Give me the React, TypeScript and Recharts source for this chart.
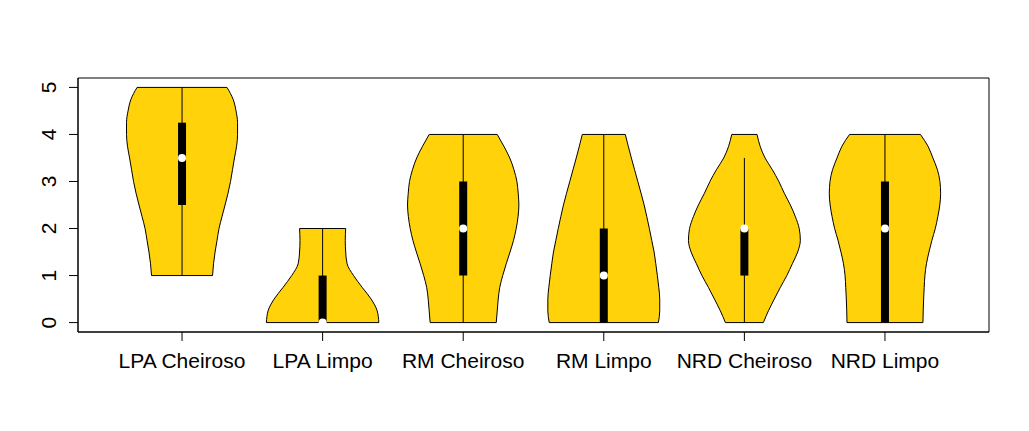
import React from 'react';
import {
  ComposedChart,
  Area,
  XAxis,
  YAxis,
  ReferenceLine,
  ReferenceDot,
  ReferenceArea,
} from 'recharts';

// ---- data ----
const categories = ['LPA Cheiroso', 'LPA Limpo', 'RM Cheiroso', 'RM Limpo', 'NRD Cheiroso', 'NRD Limpo'];
const positions = [1, 2, 3, 4, 5, 6];
const yTicks = [0, 1, 2, 3, 4, 5];

// density levels (ascending)
const levels = [0, 0.25, 0.5, 0.75, 1, 1.25, 1.5, 1.75, 2, 2.25, 2.5, 2.75, 3, 3.25, 3.5, 3.75, 4, 4.25, 4.5, 4.75, 5];

// violin half-widths (category units) at each level, null = outside the violin
const lpaCheirosoWidths = [null, null, null, null, 0.217, 0.224, 0.235, 0.249, 0.263, 0.284, 0.306, 0.327, 0.345, 0.359, 0.373, 0.388, 0.395, 0.395, 0.384, 0.363, 0.32];
const lpaLimpoWidths = [0.4, 0.388, 0.345, 0.281, 0.22, 0.174, 0.164, 0.161, 0.164, null, null, null, null, null, null, null, null, null, null, null, null];
const rmCheirosoWidths = [0.235, 0.242, 0.249, 0.26, 0.281, 0.306, 0.333, 0.358, 0.377, 0.39, 0.396, 0.391, 0.382, 0.361, 0.331, 0.289, 0.242, null, null, null, null];
const rmLimpoWidths = [0.388, 0.398, 0.398, 0.391, 0.381, 0.37, 0.358, 0.341, 0.324, 0.306, 0.287, 0.265, 0.242, 0.219, 0.196, 0.174, 0.153, null, null, null, null];
const nrdCheirosoWidths = [0.135, 0.171, 0.213, 0.256, 0.302, 0.341, 0.379, 0.398, 0.39, 0.363, 0.327, 0.284, 0.245, 0.199, 0.147, 0.112, 0.09, null, null, null, null];
const nrdLimpoWidths = [0.27, 0.272, 0.275, 0.279, 0.284, 0.295, 0.313, 0.334, 0.358, 0.376, 0.39, 0.396, 0.391, 0.373, 0.341, 0.306, 0.252, null, null, null, null];
const violinWidths = [lpaCheirosoWidths, lpaLimpoWidths, rmCheirosoWidths, rmLimpoWidths, nrdCheirosoWidths, nrdLimpoWidths];

// box plot statistics
const whiskerLow = [1, 0, 0, 0, 0, 0];
const whiskerHigh = [5, 2, 4, 4, 3.5, 4];
const q1 = [2.5, 0, 1, 0, 1, 0];
const q3 = [4.25, 1, 3, 2, 2, 3];
const medians = [3.5, 0, 2, 1, 2, 2];

// ---- table for recharts (descending y so the vertical curves run top->bottom) ----
const rows = levels
  .map((y, li) => {
    const row: Record<string, any> = { y };
    violinWidths.forEach((w, i) => {
      const h = w[li];
      row['v' + i] = h == null ? [null, null] : [positions[i] - h, positions[i] + h];
    });
    return row;
  })
  .reverse();

// ends of each violin (flat top/bottom edges)
const violinEnds = violinWidths.map((w) => {
  const idx = w.map((v, i) => (v == null ? -1 : i)).filter((i) => i >= 0);
  const lo = idx[0];
  const hi = idx[idx.length - 1];
  return { yMin: levels[lo], wMin: w[lo] as number, yMax: levels[hi], wMax: w[hi] as number };
});

const FILL = '#FFD20A';
const FONT = '"Liberation Sans", Arial, Helvetica, sans-serif';

const XTick = (props: any) => {
  const { x, y, payload } = props;
  return (
    <text x={x} y={y + 25} textAnchor="middle" fontFamily={FONT} fontSize={21} fill="#000">
      {categories[payload.value - 1]}
    </text>
  );
};

const YTick = (props: any) => {
  const { x, y, payload } = props;
  const bx = x - 11;
  return (
    <text
      x={bx}
      y={y}
      transform={`rotate(-90, ${bx}, ${y})`}
      textAnchor="middle"
      fontFamily={FONT}
      fontSize={21}
      fill="#000"
    >
      {payload.value}
    </text>
  );
};

export default function App() {
  return (
    <div style={{ position: 'absolute', left: 0, top: 0, width: 1029, height: 431, background: '#fff' }}>
      <ComposedChart
        width={1029}
        height={431}
        layout="vertical"
        data={rows}
        margin={{ top: 78, right: 40, bottom: 0, left: 0 }}
      >
        <XAxis
          type="number"
          domain={[0.26, 6.74]}
          allowDataOverflow
          ticks={positions}
          interval={0}
          height={99}
          tickSize={9}
          tickLine={{ stroke: '#000' }}
          axisLine={{ stroke: '#000' }}
          tick={<XTick />}
        />
        <YAxis
          type="number"
          dataKey="y"
          domain={[-0.2, 5.2]}
          allowDataOverflow
          reversed
          ticks={yTicks}
          interval={0}
          width={78}
          tickSize={9}
          tickLine={{ stroke: '#000' }}
          axisLine={{ stroke: '#000' }}
          tick={<YTick />}
        />
        {violinWidths.map((_, i) => (
          <Area
            key={'v' + i}
            dataKey={'v' + i}
            type="monotone"
            fill={FILL}
            fillOpacity={1}
            stroke="#000"
            strokeWidth={1}
            dot={false}
            activeDot={false}
            connectNulls={false}
            isAnimationActive={false}
          />
        ))}
        {violinEnds.map((e, i) => (
          <ReferenceLine
            key={'b' + i}
            segment={[
              { x: positions[i] - e.wMin, y: e.yMin },
              { x: positions[i] + e.wMin, y: e.yMin },
            ]}
            stroke="#000"
            strokeWidth={1}
          />
        ))}
        {violinEnds.map((e, i) => (
          <ReferenceLine
            key={'t' + i}
            segment={[
              { x: positions[i] - e.wMax, y: e.yMax },
              { x: positions[i] + e.wMax, y: e.yMax },
            ]}
            stroke="#000"
            strokeWidth={1}
          />
        ))}
        {positions.map((p, i) => (
          <ReferenceLine
            key={'w' + i}
            segment={[
              { x: p, y: whiskerLow[i] },
              { x: p, y: whiskerHigh[i] },
            ]}
            stroke="#000"
            strokeWidth={1}
          />
        ))}
        {positions.map((p, i) => (
          <ReferenceLine
            key={'q' + i}
            segment={[
              { x: p, y: q1[i] },
              { x: p, y: q3[i] },
            ]}
            stroke="#000"
            strokeWidth={8}
          />
        ))}
        {positions.map((p, i) => (
          <ReferenceDot key={'m' + i} x={p} y={medians[i]} r={4} fill="#fff" stroke="none" />
        ))}
        <ReferenceArea x1={0.26} x2={6.74} y1={-0.2} y2={5.2} fill="none" stroke="#000" strokeWidth={1} />
      </ComposedChart>
    </div>
  );
}
